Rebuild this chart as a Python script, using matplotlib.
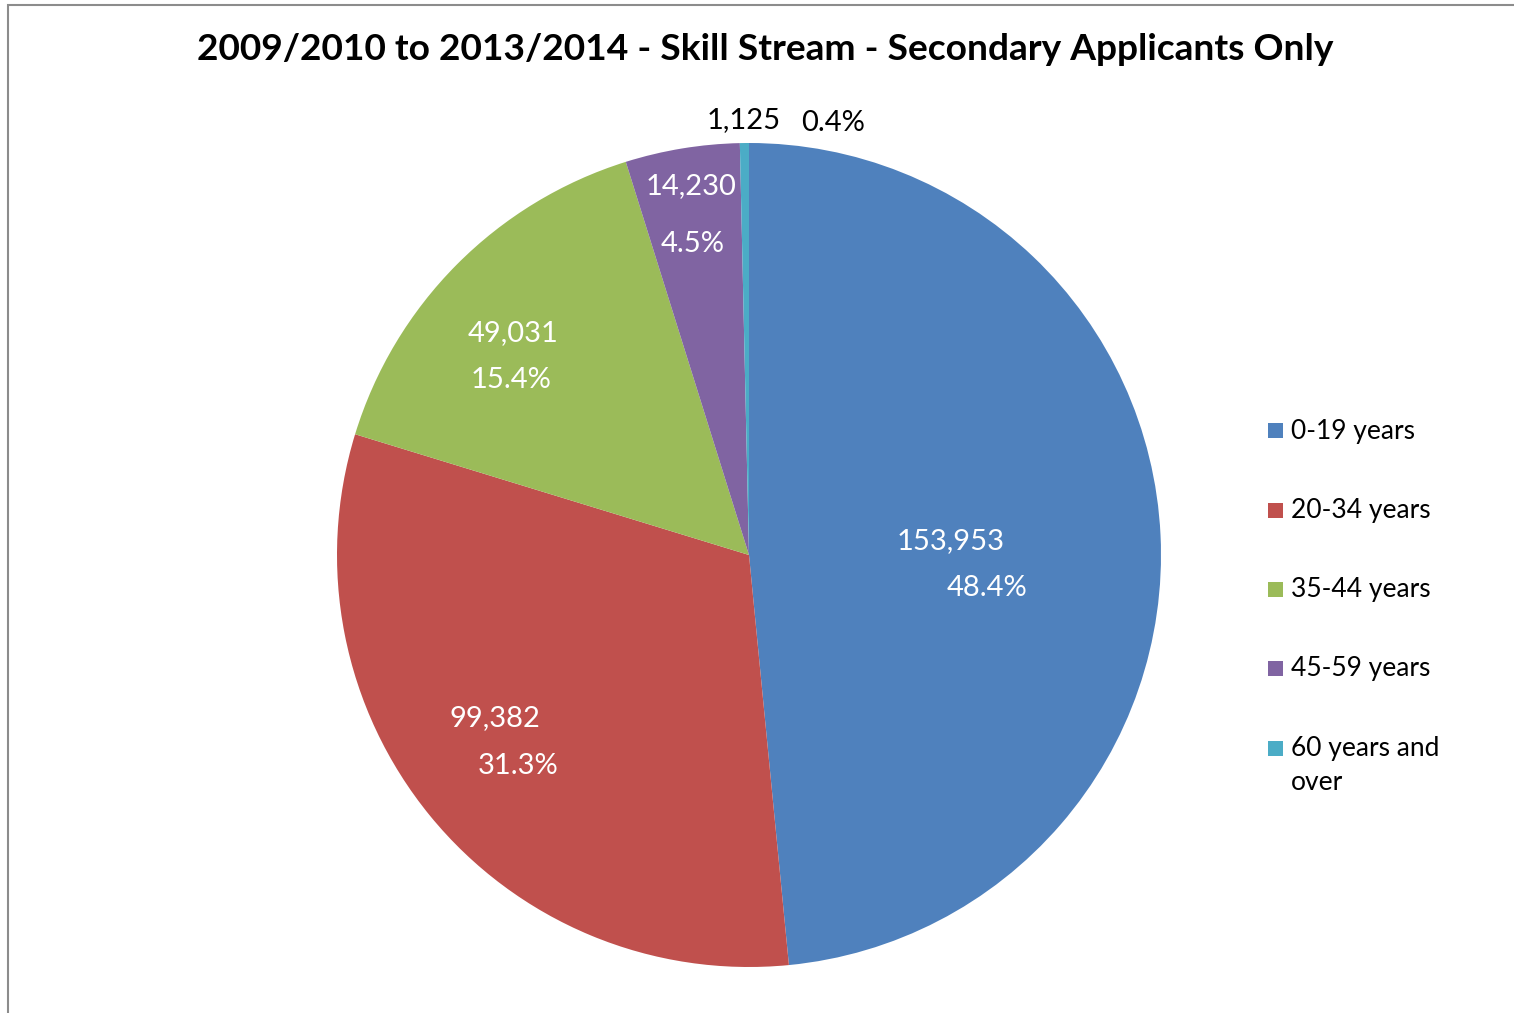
import matplotlib.pyplot as plt
import numpy as np

# data
categories = ['0-19 years', '20-34 years', '35-44 years', '45-59 years', '60 years and\nover']
counts = [153953, 99382, 49031, 14230, 1125]
percents = [48.4, 31.3, 15.4, 4.5, 0.4]   # as printed on the chart
colors = ['#4F81BD', '#C0504D', '#9BBB59', '#8064A2', '#4BACC6']
title = '2009/2010 to 2013/2014 - Skill Stream - Secondary Applicants Only'

# label placement per slice (Excel style): radius fraction, angle nudge (deg),
# and the offset of the % line against the value line (dx, dy)
label_r = [0.534, 0.744, 0.751, 0.837, 1.056]
label_dang = [-5.3, -1.6, 4.85, 0.2, 0.0]
line_off = [(0.09, 0.114), (0.056, 0.116), (-0.005, 0.114), (0.005, 0.141), (0.215, 0.007)]

plt.rcParams['font.family'] = ['Lato', 'DejaVu Sans']

W, H = 1514, 1013
fig = plt.figure(figsize=(W / 100, H / 100), dpi=100)

# pie centre / radius in pixels
cx, cy, rad = 749, 555, 412
ax = fig.add_axes([(cx - rad) / W, (H - cy - rad) / H, 2 * rad / W, 2 * rad / H])

wedges, _ = ax.pie(counts, colors=colors, startangle=90, counterclock=False,
                   radius=1, wedgeprops=dict(linewidth=0))
ax.set_xlim(-1, 1)
ax.set_ylim(-1, 1)
ax.set_aspect('equal')
ax.axis('off')

for i, (w, n, p) in enumerate(zip(wedges, counts, percents)):
    mid = np.deg2rad((w.theta1 + w.theta2) / 2 + label_dang[i])
    x, y = label_r[i] * np.cos(mid), label_r[i] * np.sin(mid)
    dx, dy = line_off[i]
    if p < 1:
        # tiny slice: labels outside, side by side
        ax.text(x, y, f'{n:,}', ha='center', va='center', fontsize=21, color='black')
        ax.text(x + dx, y - dy, f'{p:.1f}%', ha='center', va='center', fontsize=21, color='black')
    else:
        ax.text(x - dx / 2, y + dy / 2, f'{n:,}', ha='center', va='center', fontsize=21, color='white')
        ax.text(x + dx / 2, y - dy / 2, f'{p:.1f}%', ha='center', va='center', fontsize=21, color='white')

fig.text(765 / W, 1 - 49 / H, title, ha='center', va='center', fontsize=26.7, fontweight='bold')

# legend, laid out by hand like the Excel one
leg_x, leg_y0, leg_step, sq = 1268, 431, 79.3, 15
for i, (lab, c) in enumerate(zip(categories, colors)):
    yy = leg_y0 + i * leg_step
    fig.add_artist(plt.Rectangle((leg_x / W, 1 - (yy + sq / 2) / H), sq / W, sq / H,
                                 transform=fig.transFigure, facecolor=c, edgecolor='none'))
    if '\n' in lab:
        # first line centred on the marker, the rest hangs below
        fig.text((leg_x + 23) / W, 1 - (yy - 12) / H, lab, ha='left', va='top',
                 fontsize=19, linespacing=1.45)
    else:
        fig.text((leg_x + 23) / W, 1 - yy / H, lab, ha='left', va='center', fontsize=19)

# chart area border (only top and left visible in the crop)
fig.add_artist(plt.Rectangle((8 / W, -0.1), 1.2, 1.1 - 5 / H, transform=fig.transFigure,
                             fill=False, edgecolor='#8c8c8c', linewidth=1.5))

fig.savefig('out.png', dpi=100)
